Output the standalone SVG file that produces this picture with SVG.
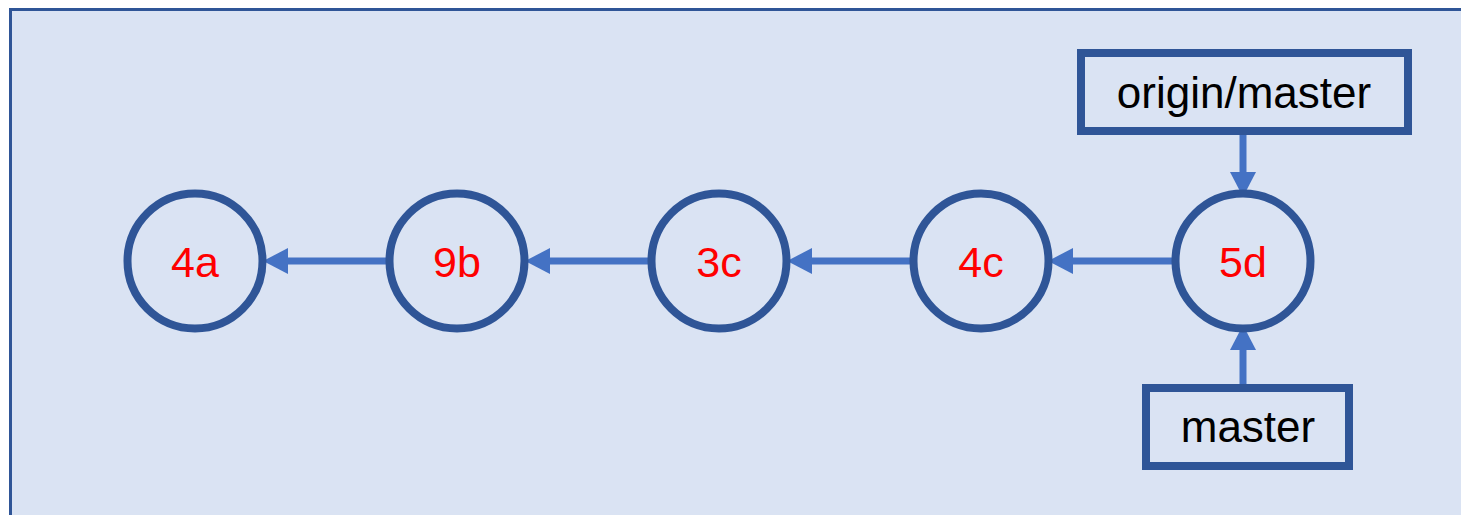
<svg xmlns="http://www.w3.org/2000/svg" width="1461" height="515" viewBox="0 0 1461 515">
<style>
.bg{fill:#DAE3F3;stroke:#2F5597;stroke-width:3}
.commit{fill:none;stroke:#2F5597;stroke-width:8}
.ref{fill:none;stroke:#2F5597;stroke-width:8}
.lbl{font-family:"Liberation Sans",Arial,sans-serif;font-size:43px;fill:#FF0000;text-anchor:middle}
.rlbl{font-family:"Liberation Sans",Arial,sans-serif;font-size:44px;fill:#000000;text-anchor:middle}
.conn{stroke:#4472C4;stroke-width:7;fill:none}
</style>
<defs>
<marker id="ah" markerUnits="userSpaceOnUse" markerWidth="26" markerHeight="26" refX="0" refY="12" orient="auto" viewBox="0 0 24 24">
<path d="M0,0 L23,12 L0,24 z" fill="#4472C4"/>
</marker>
</defs>
<rect class="bg" x="10.5" y="9.5" width="1460" height="520"/>
<g id="connectors">
<line class="conn" x1="388" y1="261" x2="288" y2="261" marker-end="url(#ah)"/>
<line class="conn" x1="650" y1="261" x2="550" y2="261" marker-end="url(#ah)"/>
<line class="conn" x1="912" y1="261" x2="812" y2="261" marker-end="url(#ah)"/>
<line class="conn" x1="1175" y1="261" x2="1073" y2="261" marker-end="url(#ah)"/>
<line class="conn" x1="1243" y1="135" x2="1243" y2="172" marker-end="url(#ah)"/>
<line class="conn" x1="1243" y1="384" x2="1243" y2="350" marker-end="url(#ah)"/>
</g>
<g id="c4a"><circle class="commit" cx="195" cy="261" r="67.5"/><text class="lbl" x="195" y="277">4a</text></g>
<g id="c9b"><circle class="commit" cx="457" cy="261" r="67.5"/><text class="lbl" x="457" y="277">9b</text></g>
<g id="c3c"><circle class="commit" cx="719" cy="261" r="67.5"/><text class="lbl" x="719" y="277">3c</text></g>
<g id="c4c"><circle class="commit" cx="981" cy="261" r="67.5"/><text class="lbl" x="981" y="277">4c</text></g>
<g id="c5d"><circle class="commit" cx="1243" cy="261" r="67.5"/><text class="lbl" x="1243" y="277">5d</text></g>
<g id="origin-master"><rect class="ref" x="1081" y="53" width="327" height="78"/><text class="rlbl" x="1244" y="108">origin/master</text></g>
<g id="master"><rect class="ref" x="1146" y="388" width="203" height="78"/><text class="rlbl" x="1248" y="442">master</text></g>
</svg>
